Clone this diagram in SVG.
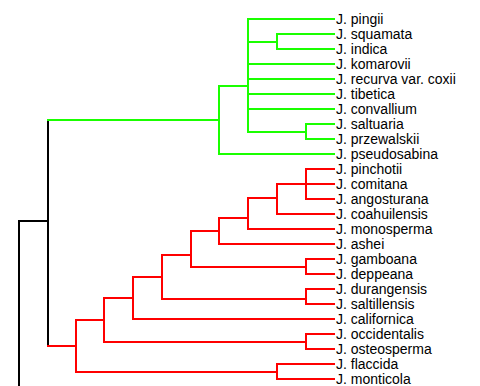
<svg xmlns="http://www.w3.org/2000/svg" width="480" height="386" viewBox="0 0 480 386">
<style>
.e{fill:none;stroke-width:2;stroke-linejoin:miter;stroke-linecap:butt}
.k{stroke:#000}
.g{stroke:#1aff00}
.r{stroke:#ff0000}
text{font-family:"Liberation Sans",Arial,sans-serif;font-size:14px;fill:#000}
</style>
<rect width="480" height="386" fill="#fff"/>
<g id="connectors">
<path class="e k" d="M19,390 V221 H48"/>
<path class="e k" d="M48,120 V346"/>
<path class="e g" d="M47,120 H219"/>
<path class="e g" d="M219,120 V86 H248 M219,120 V154 H335 M248,86 V19 H335 M248,86 V42 H277 M277,42 V34 H335 M277,42 V49 H335 M248,86 V64 H335 M248,86 V79 H335 M248,86 V94 H335 M248,86 V109 H335 M248,86 V132 H306 M306,132 V124 H335 M306,132 V139 H335"/>
<path class="e r" d="M47,346 H76 M76,346 V320 H104 M76,346 V372 H277 M277,372 V364 H335 M277,372 V379 H335 M104,320 V298 H133 M104,320 V342 H306 M306,342 V334 H335 M306,342 V349 H335 M133,298 V277 H162 M133,298 V319 H335 M162,277 V255 H191 M162,277 V299 H306 M306,299 V289 H335 M306,299 V304 H335 M191,255 V231 H219 M191,255 V267 H306 M306,267 V259 H335 M306,267 V274 H335 M219,231 V218 H248 M219,231 V244 H335 M248,218 V198 H277 M248,218 V229 H335 M277,198 V184 H306 M277,198 V214 H335 M306,184 V169 H335 M306,184 H335 M306,184 V199 H335"/>
</g>
<g id="pingii"><text x="336" y="24">J. pingii</text></g>
<g id="squamata"><text x="336" y="39">J. squamata</text></g>
<g id="indica"><text x="336" y="54">J. indica</text></g>
<g id="komarovii"><text x="336" y="69">J. komarovii</text></g>
<g id="recurva"><text x="336" y="84">J. recurva var. coxii</text></g>
<g id="tibetica"><text x="336" y="99">J. tibetica</text></g>
<g id="convallium"><text x="336" y="114">J. convallium</text></g>
<g id="saltuaria"><text x="336" y="129">J. saltuaria</text></g>
<g id="przewalskii"><text x="336" y="144">J. przewalskii</text></g>
<g id="pseudosabina"><text x="336" y="159">J. pseudosabina</text></g>
<g id="pinchotii"><text x="336" y="174">J. pinchotii</text></g>
<g id="comitana"><text x="336" y="189">J. comitana</text></g>
<g id="angosturana"><text x="336" y="204">J. angosturana</text></g>
<g id="coahuilensis"><text x="336" y="219">J. coahuilensis</text></g>
<g id="monosperma"><text x="336" y="234">J. monosperma</text></g>
<g id="ashei"><text x="336" y="249">J. ashei</text></g>
<g id="gamboana"><text x="336" y="264">J. gamboana</text></g>
<g id="deppeana"><text x="336" y="279">J. deppeana</text></g>
<g id="durangensis"><text x="336" y="294">J. durangensis</text></g>
<g id="saltillensis"><text x="336" y="309">J. saltillensis</text></g>
<g id="californica"><text x="336" y="324">J. californica</text></g>
<g id="occidentalis"><text x="336" y="339">J. occidentalis</text></g>
<g id="osteosperma"><text x="336" y="354">J. osteosperma</text></g>
<g id="flaccida"><text x="336" y="369">J. flaccida</text></g>
<g id="monticola"><text x="336" y="384">J. monticola</text></g>
</svg>
